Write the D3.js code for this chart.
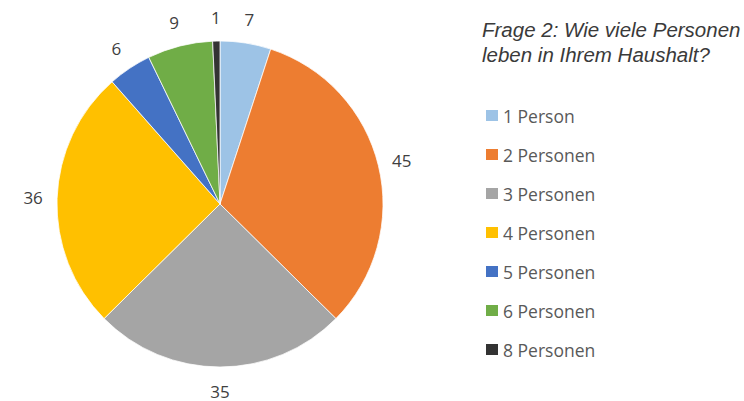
<!DOCTYPE html>
<html>
<head>
<meta charset="utf-8">
<script src="https://cdn.jsdelivr.net/npm/d3@7"></script>
<style>
  html, body { margin: 0; padding: 0; background: #fff; }
  svg { display: block; }
</style>
</head>
<body>
<svg id="chart" width="744" height="401"></svg>
<script>
// Household size survey: answers per category
const categories = ["1 Person", "2 Personen", "3 Personen", "4 Personen", "5 Personen", "6 Personen", "8 Personen"];
const values = [7, 45, 35, 36, 6, 9, 1];
const colors = ["#9DC3E6", "#ED7D31", "#A5A5A5", "#FFC000", "#4472C4", "#70AD47", "#333333"];
const titleLines = ["Frage 2: Wie viele Personen", "leben in Ihrem Haushalt?"];

const svg = d3.select("#chart");
const cx = 220, cy = 204, radius = 163, labelRadius = 187;

const data = categories.map((c, i) => ({ category: c, value: values[i], color: colors[i] }));

const pie = d3.pie().value(d => d.value).sort(null);
const arcs = pie(data);
const arc = d3.arc().innerRadius(0).outerRadius(radius);
const labelArc = d3.arc().innerRadius(labelRadius).outerRadius(labelRadius);

const g = svg.append("g").attr("transform", `translate(${cx},${cy})`);

g.selectAll("path.slice")
  .data(arcs)
  .join("path")
  .attr("class", "slice")
  .attr("d", arc)
  .attr("fill", d => d.data.color)
  .attr("stroke", "#ffffff")
  .attr("stroke-width", 0.75);

g.selectAll("text.value")
  .data(arcs)
  .join("text")
  .attr("class", "value")
  .attr("transform", d => `translate(${labelArc.centroid(d)})`)
  .attr("text-anchor", "middle")
  .attr("dominant-baseline", "central")
  .attr("font-family", "'Open Sans', 'Noto Sans', sans-serif")
  .attr("font-size", 17)
  .attr("fill", "#404040")
  .text(d => d.data.value);

// Title (italic, light)
const title = svg.append("text")
  .attr("font-family", "'Liberation Sans', 'DejaVu Sans', sans-serif")
  .attr("font-style", "italic")
  .attr("font-size", 20.5)
  .attr("fill", "#3a3a3a");
title.selectAll("tspan")
  .data(titleLines)
  .join("tspan")
  .attr("x", 482)
  .attr("y", (d, i) => 37 + i * 24.5)
  .text(d => d);

// Legend
const legendY = d3.scalePoint().domain(categories).range([115.5, 349.5]);
const legend = svg.append("g");
const items = legend.selectAll("g.item")
  .data(data)
  .join("g")
  .attr("class", "item")
  .attr("transform", d => `translate(486,${legendY(d.category)})`);
items.append("rect")
  .attr("x", 0).attr("y", -5.5)
  .attr("width", 12).attr("height", 11)
  .attr("fill", d => d.color);
items.append("text")
  .attr("x", 17)
  .attr("y", 0)
  .attr("dominant-baseline", "central")
  .attr("font-family", "'Open Sans', 'Noto Sans', sans-serif")
  .attr("font-size", 17.5)
  .attr("fill", "#595959")
  .text(d => d.category);
</script>
</body>
</html>
